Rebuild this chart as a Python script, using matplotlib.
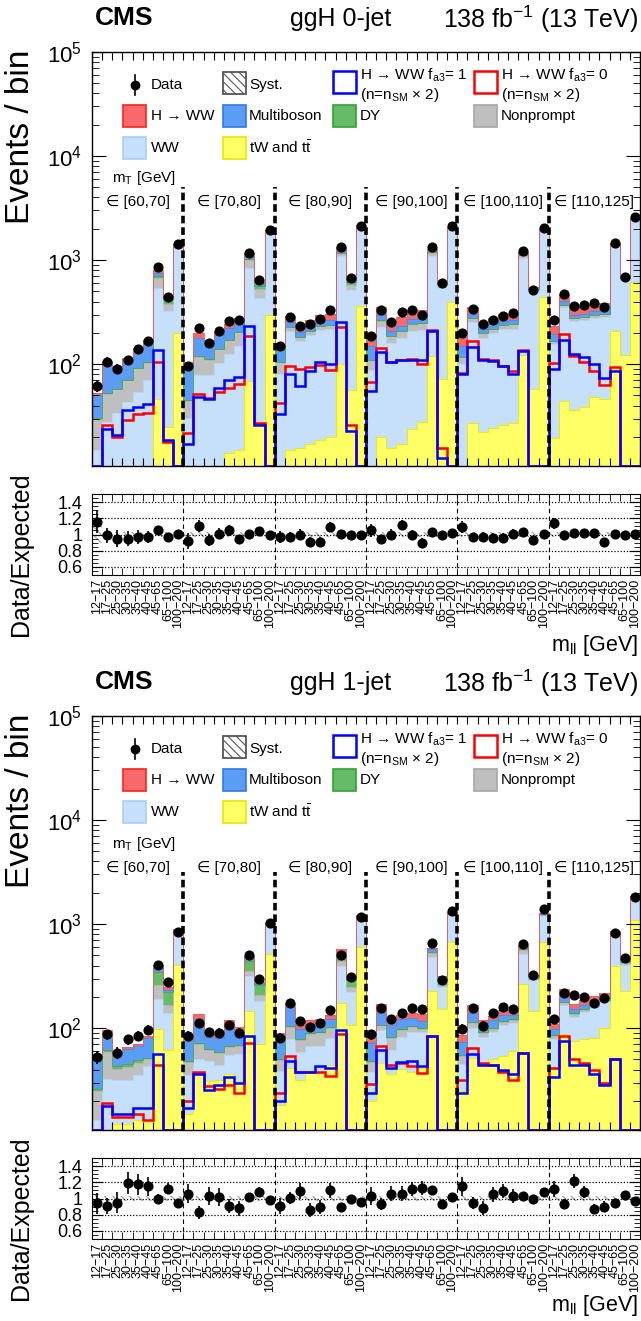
import numpy as np
import matplotlib
matplotlib.use("Agg")
import matplotlib.pyplot as plt
from matplotlib.patches import Rectangle
from matplotlib.lines import Line2D
import matplotlib.ticker as mticker
import matplotlib.transforms as mtrans

plt.rcParams['font.family'] = ['Liberation Sans', 'DejaVu Sans']
plt.rcParams['mathtext.fontset'] = 'custom'
plt.rcParams['mathtext.rm'] = 'Liberation Sans'
plt.rcParams['mathtext.it'] = 'Liberation Sans:italic'
plt.rcParams['mathtext.bf'] = 'Liberation Sans:bold'
plt.rcParams['hatch.linewidth'] = 0.8

# ---------------- data ----------------
mll_labels = ["12−17", "17−25", "25−30", "30−35", "35−40", "40−45", "45−65", "65−100", "100−200"]
mt_labels = ["∈ [60,70]", "∈ [70,80]", "∈ [80,90]", "∈ [90,100]", "∈ [100,110]", "∈ [110,125]"]

# ggH 0-jet
tt_0j = [2, 3, 3, 3, 4, 4, 46, 25, 198,
         3, 4, 5, 7, 14, 15, 69, 28, 294,
         4, 14.7, 15.7, 17, 18.4, 20, 100, 56, 359,
         4, 20, 15.6, 17, 23.5, 28, 120, 72, 396,
         4, 27, 22, 24, 26, 27, 123, 57, 442,
         19.5, 44, 36, 39, 48, 46, 210, 123, 617]
ww_0j = [13, 24.4, 31, 40, 50, 66, 488, 296, 1097,
         27, 74.5, 74, 96, 112, 135, 765, 405, 1501,
         77, 193, 150, 174, 195, 198, 989, 459, 1651,
         84, 206, 145, 163, 186, 184, 984, 465, 1571,
         96, 226, 158, 176, 190, 193, 924, 447, 1461,
         136, 307, 224, 227, 232, 240, 1115, 520, 1828]
np_0j = [14, 24, 23, 27, 37, 32, 134, 59, 39,
         14.5, 39.5, 31, 36, 44, 52, 170, 100, 50,
         23, 20, 15, 18, 20, 20, 71, 60, 45,
         21, 36, 26, 28.5, 33.5, 34, 72, 34, 40,
         16, 23.5, 17, 18.5, 20, 20.5, 59, 20, 30,
         11.5, 21.5, 16, 16.5, 17, 18, 50, 19, 30]
dy_0j = [1, 1, 1, 1, 1.5, 2, 29.5, 43, 20,
         0.5, 2, 2, 2, 2, 2, 30, 29, 25,
         1, 1, 1, 1, 1, 1, 21, 43, 20,
         1, 1, 1, 1, 1, 1, 18, 17, 15,
         0.5, 1, 1, 1, 1, 1, 10, 8, 10,
         0.5, 1, 1, 1, 1, 1, 8, 10, 10]
mb_0j = [20, 50, 33, 40, 46.5, 58, 54, 16, 31,
         49.5, 60, 44, 49, 51.5, 51, 64, 21, 40,
         37, 27, 21.3, 24.5, 27.6, 28, 74, 24, 40,
         38, 31, 22, 24.5, 28.5, 29, 46, 9, 35,
         34.5, 26.5, 19, 21, 22.5, 23, 35, 8, 30,
         27, 29.5, 22, 22.6, 24, 24, 31, 10, 30]
hww_0j = [3, 4, 4, 4.3, 5, 9, 58, 17, 31,
          9.5, 21, 14, 18, 21.5, 25, 68, 32, 40,
          13, 36.5, 29, 33.5, 37.4, 38, 77, 24, 40,
          30, 60, 43, 48, 56, 57, 48, 13, 35,
          31, 48.5, 35, 38, 41.5, 42, 44, 12, 30,
          40, 71.5, 53, 54.4, 57, 59, 43, 15, 30]
data_0j = [62, 106, 90, 109, 140, 166, 849, 442, 1430,
           96, 221, 158, 210, 257, 263, 1178, 640, 1950,
           150, 283, 232, 244, 272, 333, 1345, 666, 2134,
           188, 333, 253, 316, 328, 300, 1327, 604, 2134,
           198, 341, 244, 267, 289, 309, 1231, 513, 2023,
           267, 469, 359, 367, 387, 353, 1472, 690, 2570]
fa3one_0j = [5, 24, 21, 36, 39, 41, 138, 18.5, 5,
             17, 48, 46, 59, 70, 76, 235, 26, 5,
             33, 80, 62, 86, 106, 101, 253, 23, 5,
             55, 130, 104, 109, 110, 109, 210, 12.5, 5,
             81, 145, 109, 108, 96, 81, 135, 5, 5,
             90, 171, 125, 116, 100, 73, 86, 5, 5]
fa3zero_0j = [5, 26, 20, 29, 33, 34, 106, 18, 5,
              22, 52, 47, 54, 59, 64, 188, 27, 5,
              42, 96, 90, 93, 98, 87, 226, 26, 5,
              68, 143, 106, 109, 112, 101, 213, 15.6, 5,
              82, 166, 112, 109, 96, 86, 137, 5, 5,
              102, 195, 119, 106, 86, 63, 94, 5, 5]
ratio_0j = [1.16, 0.99, 0.95, 0.95, 0.97, 0.97, 1.05, 0.97, 1.01,
            0.92, 1.10, 0.93, 1.01, 1.05, 0.94, 1.01, 1.04, 1.00,
            0.97, 0.97, 1.00, 0.91, 0.91, 1.09, 1.01, 1.00, 0.99,
            1.05, 0.94, 1.00, 1.12, 1.00, 0.90, 1.03, 0.99, 1.02,
            1.09, 0.97, 0.97, 0.96, 0.96, 1.01, 1.03, 0.93, 1.01,
            1.14, 0.99, 1.02, 1.02, 1.02, 0.91, 1.01, 0.99, 1.01]
syst_0j = [0.10] + [0.03] * 53

# ggH 1-jet
tt_1j = [5, 10, 12, 12, 13, 13, 97, 62, 404,
         15, 38, 31, 32, 36, 31, 146, 70, 516,
         18, 41, 32, 37, 38, 44, 176, 108, 598,
         20, 46, 36, 40, 38, 41, 228, 152, 670,
         25, 52, 43, 50, 54, 60, 265, 146, 679,
         40, 87, 75, 78, 81, 101, 398, 228, 1084]
ww_1j = [8, 22.5, 20, 20, 22, 30, 95, 77, 407,
         20, 12, 17, 12, 18.6, 25, 169, 114, 456,
         21, 37, 26.7, 30, 30, 36, 216, 114, 535,
         17.6, 49, 25, 42.5, 54, 51, 254, 94, 546,
         20, 49, 40, 41, 52.5, 52.5, 255, 142, 530,
         38, 81, 54, 64, 76, 77, 371, 180, 706]
np_1j = [12, 27, 8.8, 10.4, 11.4, 7, 67, 29, 25,
         12, 20, 14, 13, 11, 11, 38, 22, 25,
         10, 24, 18, 20.5, 21, 20, 47, 26, 25,
         9.4, 11, 18.6, 13, 10.5, 7, 45, 15, 25,
         9, 12, 6, 7, 7.5, 8.5, 40, 10, 20,
         6, 10, 8, 8, 9, 8, 28, 12, 25]
dy_1j = [1, 2.3, 2.4, 2.5, 2.7, 2, 90, 54, 15,
         1, 2.6, 1.4, 1.5, 2, 2, 88, 52, 15,
         1, 3, 2, 2, 2, 2, 69, 40, 15,
         1, 2, 2, 2, 2, 2, 12, 31, 15,
         1, 2, 2, 2, 2, 2, 12, 12, 10,
         1, 2, 2, 2, 2, 2, 18, 12, 10]
mb_1j = [28, 30.6, 15, 18, 18, 29, 40, 9, 20,
         26.5, 49, 18.4, 22, 41.5, 27, 36, 10, 20,
         33, 54, 19.2, 20, 21.4, 21, 29, 11, 25,
         24, 32, 24.4, 24, 21, 16, 33, 11, 25,
         19, 23.6, 20.5, 20.5, 19, 12, 32, 8, 25,
         13.6, 21, 13, 14, 13, 12, 27, 9, 30]
hww_1j = [2, 3.5, 2.3, 2.8, 3.9, 3, 15, 15, 20,
          4.5, 14.3, 6.3, 7.5, 10, 6, 18, 10, 20,
          6, 15, 9.2, 10.4, 10.6, 12, 34, 11, 20,
          12, 29, 10, 11.5, 14.5, 19, 22, 11, 20,
          12, 28.4, 8.5, 11.5, 13, 13, 23, 9, 20,
          11.4, 36, 18, 19, 21, 19, 25, 10, 25]
data_1j = [53, 87, 58, 78, 84, 97, 404, 275, 838,
           84, 113, 91, 90, 108, 90, 505, 300, 1031,
           81, 176, 117, 103, 111, 149, 508, 307, 1169,
           87, 157, 123, 141, 157, 154, 659, 292, 1327,
           99, 157, 106, 139, 161, 152, 646, 324, 1387,
           123, 220, 208, 200, 176, 197, 824, 469, 1824]
fa3one_1j = [5, 18, 15, 15, 17, 17, 56, 5, 5,
             17, 36, 25.5, 28.5, 34, 30, 84, 5, 5,
             20, 48, 38, 38, 43, 41, 97, 5, 5,
             24, 62, 41, 47, 48, 43, 84, 5, 5,
             24, 57, 44, 44, 40, 36, 58, 5, 5,
             34, 75, 44, 44, 36, 28.5, 50, 5, 5]
fa3zero_1j = [5, 19, 14, 14, 15, 13, 44, 5, 5,
              20, 38, 27.5, 26, 28.5, 24, 72, 5, 5,
              23.7, 54, 37.5, 37.5, 38, 35, 87, 5, 5,
              29, 68, 44, 46, 43, 37, 84, 5, 5,
              32, 65, 46, 44, 38, 32, 58, 5, 5,
              41, 84, 50, 46, 40, 30, 50, 5, 5]
ratio_1j = [0.94, 0.91, 0.95, 1.19, 1.175, 1.15, 1.00, 1.12, 0.94,
            1.06, 0.83, 1.03, 1.02, 0.91, 0.88, 1.02, 1.08, 0.98,
            0.91, 1.01, 1.09, 0.86, 0.90, 1.10, 0.89, 0.99, 0.96,
            1.03, 0.93, 1.06, 1.06, 1.12, 1.13, 1.11, 0.93, 1.02,
            1.15, 0.94, 0.88, 1.05, 1.09, 1.03, 1.03, 0.99, 1.08,
            1.12, 0.93, 1.22, 1.08, 0.87, 0.90, 0.95, 1.04, 0.97]
syst_1j = [0.06] + [0.03] * 53

# ---------------- style ----------------
C_TT = ('#ffff66', '#e6e600')
C_WW = ('#c6e0fb', '#b5d5f7')
C_NP = ('#bfbfbf', '#b0b0b0')
C_DY = ('#66bb66', '#44a844')
C_MB = ('#5b9cf4', '#4a8ae8')
C_HW = ('#f76a6a', '#f25a5a')
LEG_EDGE = {'#ffff66': '#e6e600', '#c6e0fb': '#a9cdf5', '#bfbfbf': '#a8a8a8',
            '#66bb66': '#33a033', '#5b9cf4': '#3478e0', '#f76a6a': '#ff2020'}

W, H = 641, 1321
fig = plt.figure(figsize=(W / 100, H / 100), dpi=100)


def add_ax(l, t, r, b):
    return fig.add_axes([l / W, 1 - b / H, (r - l) / W, (b - t) / H])


def fx(x):
    return x / W


def fy(y):
    return 1 - y / H


nb = len(data_0j)
edges = np.arange(nb + 1)
centers = edges[:-1] + 0.5
bounds = [9, 18, 27, 36, 45]
YMIN, YMAX = 10.5, 1e5


def legend(oy):
    T = fig.transFigure
    bw, bh = 23, 22

    def box(x, yc, fc, ec, lw=1.2, hatch=None):
        r = Rectangle((fx(x), fy(yc + bh / 2)), bw / W, bh / H, transform=T,
                      facecolor=fc, edgecolor=ec, lw=lw, hatch=hatch)
        fig.patches.append(r)

    def cbox(x, yc, col):
        box(x, yc, col[0], LEG_EDGE[col[0]])

    def txt(x, yc, s, **kw):
        fig.text(fx(x), fy(yc), s, fontsize=11, ha='left', va='center', **kw)

    r1, r2, r3 = 85 + oy, 116 + oy, 148 + oy
    fig.lines.append(Line2D([fx(135), fx(135)], [fy(r1 - 10), fy(r1 + 10)], transform=T, color='k', lw=1.2))
    fig.lines.append(Line2D([fx(135)], [fy(r1)], transform=T, marker='o', ms=6, color='k'))
    txt(151, r1, "Data")
    box(223, r1 - 2, 'white', '#555555', lw=1.3, hatch='\\\\\\\\')
    txt(249, r1, "Syst.")
    box(333, r1 - 3, 'white', '#0000ff', lw=1.8)
    txt(360, r1 - 10, r"H → WW f$_{\mathrm{a3}}$= 1")
    txt(360, r1 + 10, r"(n=n$_{\mathrm{SM}}$ × 2)")
    box(474, r1 - 3, 'white', '#ff0000', lw=1.8)
    txt(501, r1 - 10, r"H → WW f$_{\mathrm{a3}}$= 0")
    txt(501, r1 + 10, r"(n=n$_{\mathrm{SM}}$ × 2)")
    cbox(123, r2, C_HW)
    txt(151, r2, "H → WW")
    cbox(223, r2, C_MB)
    txt(249, r2, "Multiboson")
    cbox(333, r2, C_DY)
    txt(360, r2, "DY")
    cbox(474, r2, C_NP)
    txt(501, r2, "Nonprompt")
    cbox(123, r3, C_WW)
    txt(151, r3, "WW")
    cbox(223, r3, C_TT)
    txt(249, r3, r"tW and t$\bar{\mathrm{t}}$")


def panel(oy, title, comps, data, fa3one, fa3zero, ratio, syst, ytop_lines, mt_y, lab_y, mll_y):
    ax = add_ax(92, 52 + oy, 640, 466 + oy)
    rx = add_ax(92, 494 + oy, 640, 575 + oy)

    ax.set_yscale('log')
    base = np.full(nb, 0.1)
    for vals, (fc, ec) in comps:
        top = base + np.asarray(vals, float)
        ax.stairs(top, edges, baseline=base, fill=True, color=fc, lw=0, zorder=1)
        ax.stairs(top, edges, baseline=None, color=ec, lw=0.6, zorder=1.1)
        base = top

    ax.stairs(np.clip(fa3zero, YMIN * 1.005, None), edges, baseline=None, color='#ff0000', lw=1.8, zorder=3)
    ax.stairs(np.clip(fa3one, YMIN * 1.005, None), edges, baseline=None, color='#0000ff', lw=1.8, zorder=3.1)

    d = np.asarray(data, float)
    ax.errorbar(centers, d, yerr=np.sqrt(d), fmt='o', color='k', ms=6.3, elinewidth=1.2, capsize=0, zorder=5)

    ax.vlines(bounds, YMIN, ytop_lines, colors='k', lw=2.6, linestyles=(0, (2.1, 1.1)), zorder=4)

    ax.set_xlim(0, nb)
    ax.set_ylim(YMIN, YMAX)
    ax.set_xticks(edges)
    ax.set_xticklabels([])
    ax.yaxis.set_major_locator(mticker.LogLocator(base=10, numticks=10))
    ax.yaxis.set_minor_locator(mticker.LogLocator(base=10, subs=np.arange(2, 10), numticks=10))
    ax.yaxis.set_minor_formatter(mticker.NullFormatter())
    ax.tick_params(axis='both', which='both', direction='in', top=True, right=True)
    ax.tick_params(axis='y', which='major', length=10, labelsize=16, pad=7)
    ax.tick_params(axis='y', which='minor', length=5)
    ax.tick_params(axis='x', which='major', length=6)
    for s in ax.spines.values():
        s.set_linewidth(1.0)

    trans = mtrans.blended_transform_factory(ax.transData, ax.transAxes)
    for k, lab in enumerate(mt_labels):
        ax.text(4.5 + 9 * k, lab_y, lab, transform=trans, ha='center', va='center', fontsize=11)
    ax.text(5.1, mt_y, r"m$_{\mathrm{T}}$ [GeV]", transform=trans, ha='center', va='center', fontsize=11)

    # ratio
    r = np.asarray(ratio, float)
    s = np.asarray(syst, float)
    rx.stairs(1 + s, edges, baseline=1 - s, fill=True, facecolor='none', edgecolor='#9a9a9a',
              hatch='\\\\\\\\', lw=0, zorder=1)
    for yv in [0.6, 0.8, 1.0, 1.2, 1.4]:
        rx.axhline(yv, color='k', ls=(0, (1, 1.5)), lw=0.9, zorder=2)
    rx.vlines(bounds, 0.5, 1.5, colors='k', lw=0.8, linestyles=(0, (4, 3)), zorder=2)
    rx.errorbar(centers, r, yerr=r / np.sqrt(d), fmt='o', color='k', ms=6.3, elinewidth=1.2, capsize=0, zorder=5)
    rx.set_xlim(0, nb)
    rx.set_ylim(0.5, 1.5)
    rx.set_yticks([0.6, 0.8, 1.0, 1.2, 1.4])
    rx.set_yticklabels(["0.6", "0.8", "1", "1.2", "1.4"])
    rx.yaxis.set_minor_locator(mticker.MultipleLocator(0.05))
    rx.set_xticks(centers)
    rx.set_xticklabels(mll_labels * 6, rotation=90, fontsize=9)
    rx.set_xticks(edges, minor=True)
    rx.tick_params(axis='x', which='major', length=0, pad=3)
    rx.tick_params(axis='x', which='minor', direction='in', length=5, top=True, bottom=True)
    rx.tick_params(axis='y', which='both', direction='in', left=True, right=True)
    rx.tick_params(axis='y', which='major', length=8, labelsize=13, pad=7)
    rx.tick_params(axis='y', which='minor', length=4)

    # texts
    fig.text(fx(95), fy(18 + oy), "CMS", fontsize=19, fontweight='bold', ha='left', va='center')
    fig.text(fx(290), fy(19 + oy), title, fontsize=18, ha='left', va='center')
    fig.text(fx(638), fy(19 + oy), r"138 fb$^{-1}$ (13 TeV)", fontsize=18, ha='right', va='center')
    fig.text(fx(21), fy(50 + oy), "Events / bin", fontsize=24, rotation=90, ha='center', va='top')
    fig.text(fx(21), fy(554 + oy), "Data/Expected", fontsize=18, rotation=90, ha='center', va='center')
    fig.text(fx(638), fy(mll_y), r"m$_{\mathrm{ll}}$ [GeV]", fontsize=15.5, ha='right', va='center')
    legend(oy)


comps_0j = [(tt_0j, C_TT), (ww_0j, C_WW), (np_0j, C_NP), (dy_0j, C_DY), (mb_0j, C_MB), (hww_0j, C_HW)]
comps_1j = [(tt_1j, C_TT), (ww_1j, C_WW), (np_1j, C_NP), (dy_1j, C_DY), (mb_1j, C_MB), (hww_1j, C_HW)]

panel(0, "ggH 0-jet", comps_0j, data_0j, fa3one_0j, fa3zero_0j, ratio_0j, syst_0j, 5000, 0.696, 0.638, 645)
panel(664, "ggH 1-jet", comps_1j, data_1j, fa3one_1j, fa3zero_1j, ratio_1j, syst_1j, 3200, 0.690, 0.633, 1305)

fig.savefig("out.png", dpi=100)
